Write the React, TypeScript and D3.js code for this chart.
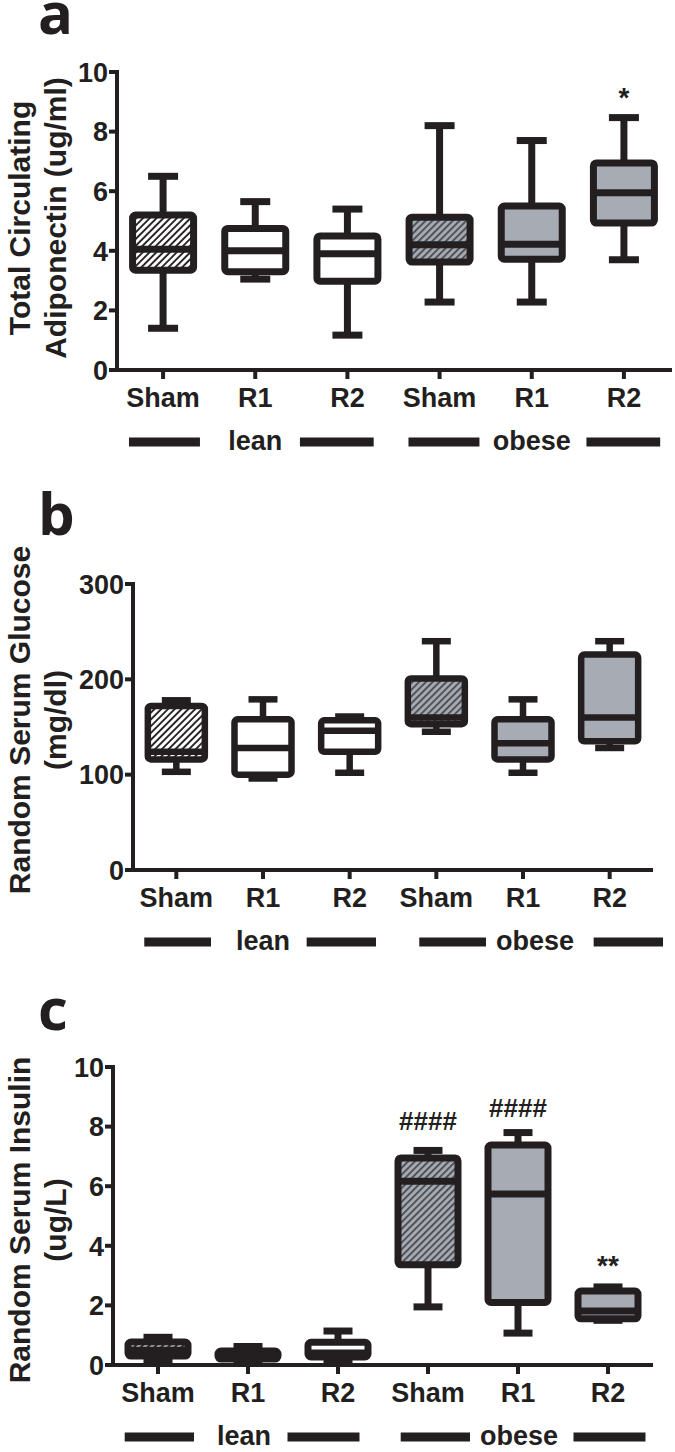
import React from "react";
import * as d3 from "d3";

// ---------- data ----------
const categories = ["Sham", "R1", "R2", "Sham", "R1", "R2"];
const groupNames = ["lean", "obese"];
const groupOf = ["lean", "lean", "lean", "obese", "obese", "obese"];
const hatched = [true, false, false, true, false, false];

// [min, q1, median, q3, max]
const adiponectin = [
  [1.4, 3.35, 4.05, 5.2, 6.5],
  [3.05, 3.3, 4.0, 4.75, 5.65],
  [1.17, 2.98, 3.9, 4.5, 5.4],
  [2.28, 3.62, 4.2, 5.13, 8.2],
  [2.28, 3.72, 4.22, 5.5, 7.7],
  [3.7, 4.93, 5.95, 6.95, 8.47],
];
const glucose = [
  [103, 116, 124, 172, 178],
  [96, 100, 128, 158, 179],
  [102, 124, 146, 157, 161],
  [145, 153, 160, 201, 240],
  [102, 116, 133, 158, 179],
  [128, 135, 160, 226, 240],
];
const insulin = [
  [0.12, 0.3, 0.5, 0.77, 0.93],
  [0.15, 0.2, 0.33, 0.47, 0.62],
  [0.1, 0.27, 0.4, 0.76, 1.14],
  [1.95, 3.36, 6.17, 6.95, 7.2],
  [1.07, 2.1, 5.74, 7.38, 7.8],
  [1.5, 1.55, 1.81, 2.48, 2.62],
];

const adipoTicks = [0, 2, 4, 6, 8, 10];
const glucoseTicks = [0, 100, 200, 300];
const insulinTicks = [0, 2, 4, 6, 8, 10];

// annotations: [category index, label, value level of baseline]
const adipoAnnot: [number, string, number][] = [[5, "*", 8.83]];
const glucoseAnnot: [number, string, number][] = [];
const insulinAnnot: [number, string, number][] = [
  [3, "####", 7.89],
  [4, "####", 8.32],
  [5, "**", 3.02],
];

// ---------- styles / layout ----------
const INK = "#231f20";
const GRAY = "#a7abb4";
const FONT = "'Liberation Sans', Arial, sans-serif";

const panels = [
  {
    letter: "a", letterY: 34, data: adiponectin, ticks: adipoTicks, annot: adipoAnnot,
    yMax: 10, yTop: 72, yBottom: 370, xLeft: 117, xRight: 670, axisEnd: 672,
    boxW: 61, sw: 7, capW: 30,
    title: ["Total Circulating", "Adiponectin (ug/ml)"], titleCy: 218,
    groupAdj: [[0, 0, -6], [0, 3, 4]],
  },
  {
    letter: "b", letterY: 535, data: glucose, ticks: glucoseTicks, annot: glucoseAnnot,
    yMax: 300, yTop: 584, yBottom: 870, xLeft: 133, xRight: 653, axisEnd: 653,
    boxW: 57, sw: 6.5, capW: 29,
    title: ["Random Serum Glucose", "(mg/dl)"], titleCy: 720,
    groupAdj: [[0, 0, -4], [12, 15, 23]],
  },
  {
    letter: "c", letterY: 1030, data: insulin, ticks: insulinTicks, annot: insulinAnnot,
    yMax: 10, yTop: 1067, yBottom: 1365, xLeft: 113, xRight: 653, axisEnd: 653,
    boxW: 60, sw: 7, capW: 29,
    title: ["Random Serum Insulin", "(ug/L)"], titleCy: 1220,
    groupAdj: [[-4, 0, -10], [1, 6, 6]],
  },
];

function Panel({ p }: { p: any }) {
  const x = d3
    .scalePoint<number>()
    .domain(d3.range(categories.length))
    .range([p.xLeft, p.xRight])
    .padding(0.5);
  const step = x.step();
  const y = d3.scaleLinear().domain([0, p.yMax]).range([p.yBottom, p.yTop]);
  const bw = p.boxW;
  const sw = p.sw;

  const fillFor = (i: number) => {
    const obese = groupOf[i] === "obese";
    if (hatched[i]) return obese ? "url(#hatchObese)" : "url(#hatchLean)";
    return obese ? GRAY : "#ffffff";
  };

  return (
    <g>
      <text
        x={38}
        y={p.letterY}
        fontFamily="'Open Sans', sans-serif"
        fontWeight={700}
        fontSize={58}
        fill={INK}
      >
        {p.letter}
      </text>

      <g transform={`translate(30, ${p.titleCy}) rotate(-90)`}>
        <text textAnchor="middle" fontFamily={FONT} fontWeight={700} fontSize={30} fill={INK}>
          {p.title[0]}
        </text>
      </g>
      <g transform={`translate(66, ${p.titleCy}) rotate(-90)`}>
        <text textAnchor="middle" fontFamily={FONT} fontWeight={700} fontSize={30} fill={INK}>
          {p.title[1]}
        </text>
      </g>

      {p.data.map((v: number[], i: number) => {
        const cx = x(i) as number;
        const [mn, q1, md, q3, mx] = v;
        return (
          <g key={i}>
            <line x1={cx} x2={cx} y1={y(mx)} y2={y(q3)} stroke={INK} strokeWidth={sw} />
            <line x1={cx} x2={cx} y1={y(q1)} y2={y(mn)} stroke={INK} strokeWidth={sw} />
            <line x1={cx - p.capW / 2} x2={cx + p.capW / 2} y1={y(mx)} y2={y(mx)} stroke={INK} strokeWidth={sw} />
            <line x1={cx - p.capW / 2} x2={cx + p.capW / 2} y1={y(mn)} y2={y(mn)} stroke={INK} strokeWidth={sw} />
            <rect
              x={cx - bw / 2}
              y={y(q3)}
              width={bw}
              height={y(q1) - y(q3)}
              rx={3}
              fill={fillFor(i)}
              stroke={INK}
              strokeWidth={sw}
            />
            <line x1={cx - bw / 2} x2={cx + bw / 2} y1={y(md)} y2={y(md)} stroke={INK} strokeWidth={sw} />
          </g>
        );
      })}

      {p.annot.map((a: [number, string, number], k: number) => (
        <text
          key={k}
          x={x(a[0]) as number}
          y={y(a[2])}
          textAnchor="middle"
          fontFamily={FONT}
          fontWeight={700}
          fontSize={a[1].startsWith("#") ? 26 : 28}
          fill={INK}
        >
          {a[1]}
        </text>
      ))}

      <line x1={p.xLeft} x2={p.xLeft} y1={y(p.yMax) - 2} y2={p.yBottom + 2} stroke={INK} strokeWidth={4} />
      <line x1={p.xLeft - 2} x2={p.axisEnd} y1={p.yBottom} y2={p.yBottom} stroke={INK} strokeWidth={4} />
      {p.ticks.map((t: number) => (
        <g key={t}>
          <line x1={p.xLeft - 8} x2={p.xLeft} y1={y(t)} y2={y(t)} stroke={INK} strokeWidth={4} />
          <text
            x={p.xLeft - 9}
            y={y(t)}
            dy="0.36em"
            textAnchor="end"
            fontFamily={FONT}
            fontWeight={700}
            fontSize={27}
            fill={INK}
          >
            {t}
          </text>
        </g>
      ))}
      {categories.map((c, i) => (
        <g key={i}>
          <line
            x1={x(i) as number}
            x2={x(i) as number}
            y1={p.yBottom}
            y2={p.yBottom + 9}
            stroke={INK}
            strokeWidth={4}
          />
          <text
            x={x(i) as number}
            y={p.yBottom + 37}
            textAnchor="middle"
            fontFamily={FONT}
            fontWeight={700}
            fontSize={27}
            fill={INK}
          >
            {c}
          </text>
        </g>
      ))}

      {groupNames.map((g, gi) => {
        const idxs = d3.range(categories.length).filter((i) => groupOf[i] === g);
        const adj = p.groupAdj[gi];
        const first = (x(idxs[0]) as number) + adj[1];
        const mid = (x(idxs[1]) as number) + adj[0];
        const last = (x(idxs[idxs.length - 1]) as number) + adj[2];
        const gy = p.yBottom + 72;
        return (
          <g key={g}>
            <line x1={first - 0.37 * step} x2={first + 0.4 * step} y1={gy} y2={gy} stroke={INK} strokeWidth={9} />
            <line x1={last - 0.45 * step} x2={last + 0.35 * step} y1={gy} y2={gy} stroke={INK} strokeWidth={9} />
            <text
              x={mid}
              y={p.yBottom + 80}
              textAnchor="middle"
              fontFamily={FONT}
              fontWeight={700}
              fontSize={27}
              fill={INK}
            >
              {g}
            </text>
          </g>
        );
      })}
    </g>
  );
}

export default function App() {
  return (
    <div style={{ position: "absolute", left: 0, top: 0 }}>
      <svg width={675} height={1452} style={{ display: "block", background: "#fff" }}>
        <defs>
          <pattern id="hatchLean" patternUnits="userSpaceOnUse" width={4.8} height={4.8} patternTransform="rotate(45)">
            <rect width={4.8} height={4.8} fill="#ffffff" />
            <line x1={1} x2={1} y1={0} y2={4.8} stroke={INK} strokeWidth={1.9} />
          </pattern>
          <pattern id="hatchObese" patternUnits="userSpaceOnUse" width={4.8} height={4.8} patternTransform="rotate(45)">
            <rect width={4.8} height={4.8} fill={GRAY} />
            <line x1={1} x2={1} y1={0} y2={4.8} stroke="#505258" strokeWidth={2} />
          </pattern>
        </defs>
        {panels.map((p, i) => (
          <Panel key={i} p={p} />
        ))}
      </svg>
    </div>
  );
}
